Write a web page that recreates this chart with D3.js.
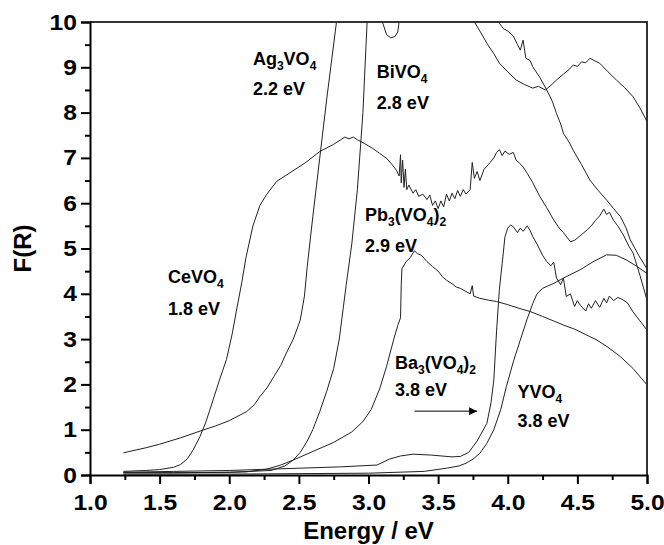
<!DOCTYPE html>
<html><head><meta charset="utf-8">
<script src="https://cdn.jsdelivr.net/npm/d3@7"></script>
<style>
html,body{margin:0;padding:0;background:#fff;}
svg{display:block;font-family:"Liberation Sans",Arial,sans-serif;}
</style></head>
<body>
<svg id="chart" width="664" height="545"></svg>
<script>
// ---- data (energy eV, F(R)) ----
const ceVO4 = [[1.24,0.08],[1.4,0.1],[1.5,0.12],[1.6,0.17],[1.65,0.23],[1.70,0.36],[1.74,0.55],[1.79,0.85],[1.83,1.15],[1.86,1.43],[1.93,2.1],[1.98,2.55],[2.02,3.1],[2.05,3.6],[2.09,4.25],[2.12,4.8],[2.17,5.5],[2.22,5.95],[2.27,6.2],[2.34,6.48],[2.45,6.7],[2.55,6.9],[2.65,7.14],[2.75,7.3],[2.80,7.40],[2.83,7.46],[2.86,7.42],[2.89,7.46],[2.92,7.40],[2.97,7.32],[3.03,7.21],[3.08,7.1],[3.13,6.99],[3.17,6.85],[3.20,6.73],[3.22,6.6],[3.23,7.07],[3.235,6.45],[3.245,6.95],[3.255,6.35],[3.265,6.75],[3.275,6.3],[3.29,6.4],[3.32,6.22],[3.34,6.3],[3.36,6.15],[3.39,6.2],[3.42,6.08],[3.44,6.18],[3.46,5.95],[3.48,6.05],[3.50,5.88],[3.52,6.05],[3.54,5.92],[3.56,6.2],[3.58,6.05],[3.60,6.22],[3.62,6.1],[3.64,6.28],[3.66,6.15],[3.68,6.3],[3.70,6.2],[3.73,6.3],[3.745,6.9],[3.76,6.55],[3.78,6.7],[3.80,6.5],[3.83,6.75],[3.86,6.85],[3.9,7.0],[3.92,7.12],[3.94,7.18],[3.96,7.05],[3.98,7.15],[4.01,7.08],[4.04,7.12],[4.06,6.95],[4.08,6.9],[4.11,6.8],[4.14,6.66],[4.18,6.45],[4.23,6.15],[4.28,5.9],[4.33,5.63],[4.37,5.45],[4.40,5.35],[4.45,5.15],[4.48,5.18],[4.52,5.28],[4.57,5.41],[4.60,5.5],[4.63,5.62],[4.66,5.72],[4.69,5.87],[4.71,5.75],[4.73,5.8],[4.76,5.62],[4.79,5.5],[4.83,5.3],[4.87,5.05],[4.90,4.9],[4.95,4.4],[5.0,3.86]];
const ag3VO4 = [[1.24,0.49],[1.4,0.6],[1.5,0.68],[1.65,0.82],[1.81,0.99],[1.9,1.08],[2.0,1.2],[2.125,1.40],[2.18,1.55],[2.22,1.73],[2.27,1.92],[2.32,2.17],[2.37,2.42],[2.41,2.69],[2.46,3.0],[2.51,3.42],[2.54,3.95],[2.56,4.6],[2.6,5.7],[2.65,7.0],[2.7,8.3],[2.77,10.0],[2.8,11],[3.05,11],[3.10,10.0],[3.13,9.72],[3.16,9.65],[3.19,9.68],[3.21,9.78],[3.22,10.0],[3.25,11],[3.7,11],[3.76,10.0],[3.80,9.8],[3.85,9.53],[3.90,9.3],[3.94,9.09],[4.0,8.9],[4.06,8.72],[4.12,8.62],[4.18,8.54],[4.22,8.58],[4.27,8.5],[4.31,8.6],[4.35,8.72],[4.40,8.85],[4.44,8.95],[4.47,9.05],[4.50,9.02],[4.53,9.12],[4.56,9.1],[4.59,9.2],[4.62,9.15],[4.66,9.09],[4.72,8.9],[4.78,8.72],[4.84,8.55],[4.90,8.35],[4.95,8.1],[5.0,7.8]];
const biVO4 = [[1.24,0.05],[1.6,0.05],[2.0,0.06],[2.3,0.1],[2.4,0.2],[2.46,0.33],[2.51,0.5],[2.56,0.75],[2.60,1.0],[2.65,1.4],[2.70,1.85],[2.75,2.35],[2.79,3.0],[2.84,4.2],[2.88,5.1],[2.92,6.3],[2.96,8.0],[2.99,10.0],[3.02,11],[3.9,11],[3.94,9.97],[3.97,9.85],[4.0,9.8],[4.04,9.69],[4.07,9.5],[4.09,9.38],[4.11,9.6],[4.13,9.2],[4.16,9.15],[4.18,9.01],[4.23,8.78],[4.28,8.5],[4.32,8.25],[4.35,7.98],[4.38,7.75],[4.40,7.54],[4.44,7.35],[4.47,7.17],[4.53,6.85],[4.59,6.51],[4.65,6.28],[4.71,6.07],[4.76,5.88],[4.81,5.70],[4.85,5.45],[4.88,5.19],[4.94,4.85],[5.0,4.55]];
const pb3VO42 = [[1.24,0.05],[1.6,0.05],[2.0,0.06],[2.125,0.07],[2.27,0.13],[2.37,0.22],[2.46,0.33],[2.6,0.52],[2.75,0.72],[2.88,0.95],[2.96,1.18],[3.02,1.45],[3.08,1.9],[3.13,2.4],[3.18,2.98],[3.21,3.3],[3.23,3.47],[3.235,4.2],[3.24,4.55],[3.27,4.71],[3.30,4.8],[3.33,4.95],[3.35,4.89],[3.38,4.85],[3.42,4.71],[3.46,4.6],[3.50,4.5],[3.53,4.38],[3.56,4.3],[3.60,4.22],[3.63,4.15],[3.66,4.12],[3.70,4.05],[3.73,4.0],[3.745,4.18],[3.755,3.95],[3.80,3.9],[3.86,3.86],[3.92,3.83],[4.0,3.76],[4.08,3.68],[4.16,3.61],[4.25,3.5],[4.33,3.4],[4.40,3.31],[4.48,3.22],[4.56,3.1],[4.64,2.98],[4.72,2.82],[4.81,2.61],[4.9,2.35],[5.0,1.99]];
const ba3VO42 = [[1.24,0.06],[1.6,0.08],[2.0,0.1],[2.5,0.15],[2.8,0.18],[3.06,0.22],[3.15,0.35],[3.23,0.42],[3.32,0.46],[3.45,0.44],[3.6,0.4],[3.66,0.41],[3.72,0.5],[3.78,0.75],[3.85,1.14],[3.88,1.6],[3.90,2.1],[3.92,3.2],[3.94,4.1],[3.96,4.67],[3.98,5.26],[4.0,5.45],[4.02,5.52],[4.04,5.48],[4.07,5.35],[4.09,5.45],[4.11,5.38],[4.14,5.5],[4.16,5.4],[4.18,5.26],[4.21,5.1],[4.25,4.85],[4.28,4.71],[4.31,4.62],[4.33,4.7],[4.35,4.35],[4.38,4.2],[4.40,4.35],[4.42,3.94],[4.45,4.0],[4.48,3.72],[4.50,3.85],[4.52,3.75],[4.56,3.62],[4.58,3.78],[4.60,3.68],[4.63,3.85],[4.66,3.7],[4.69,3.9],[4.71,3.8],[4.73,3.95],[4.76,3.85],[4.79,3.92],[4.82,3.88],[4.86,3.8],[4.9,3.6],[4.95,3.4],[5.0,3.2]];
const yVO4 = [[1.24,0.02],[2.0,0.02],[3.0,0.04],[3.4,0.08],[3.56,0.15],[3.65,0.2],[3.70,0.26],[3.75,0.35],[3.80,0.48],[3.85,0.7],[3.90,1.0],[3.95,1.45],[3.99,1.95],[4.04,2.5],[4.09,2.98],[4.14,3.45],[4.18,3.79],[4.21,4.0],[4.25,4.12],[4.33,4.23],[4.42,4.38],[4.52,4.53],[4.62,4.72],[4.71,4.86],[4.78,4.85],[4.85,4.75],[4.92,4.62],[5.0,4.45]];
const seriesList = [ceVO4, ag3VO4, biVO4, pb3VO42, ba3VO42, yVO4];

const xTicks = [1.0,1.5,2.0,2.5,3.0,3.5,4.0,4.5,5.0];
const yTicks = [0,1,2,3,4,5,6,7,8,9,10];

// ---- layout ----
const svg = d3.select("#chart");
const m = {left:90, right:17, top:22, bottom:70};
const W = 664, H = 545;
const x = d3.scaleLinear().domain([1,5]).range([m.left, W-m.right]);
const y = d3.scaleLinear().domain([0,10]).range([H-m.bottom, m.top]);

svg.append("defs").append("clipPath").attr("id","clip")
  .append("rect").attr("x",x(1)).attr("y",y(10)).attr("width",x(5)-x(1)).attr("height",y(0)-y(10));

// frame (top and right)
svg.append("path").attr("d",`M${x(1)},${y(10)}H${x(5)}V${y(0)}`)
  .attr("fill","none").attr("stroke","#333").attr("stroke-width",2);

const line = d3.line().x(d=>x(d[0])).y(d=>y(d[1]));
svg.append("g").attr("clip-path","url(#clip)").selectAll("path").data(seriesList).join("path")
  .attr("d",line).attr("fill","none").attr("stroke","#222").attr("stroke-width",1).attr("stroke-linejoin","round");

// axes
const fontTick = "bold 22px 'Liberation Sans', Arial, sans-serif";
svg.append("g").attr("class","xax").attr("transform",`translate(0,${y(0)})`)
  .call(d3.axisBottom(x).tickValues(xTicks).tickFormat(d3.format(".1f")).tickSize(9).tickPadding(10));
svg.append("g").attr("transform",`translate(0,${y(0)})`)
  .call(d3.axisBottom(x).tickValues(d3.range(1.25,5,0.5)).tickFormat("").tickSize(5))
  .select(".domain").remove();
svg.append("g").attr("class","yax").attr("transform",`translate(${x(1)},0)`)
  .call(d3.axisLeft(y).tickValues(yTicks).tickFormat(d3.format("d")).tickSize(9).tickPadding(4));
svg.append("g").attr("transform",`translate(${x(1)},0)`)
  .call(d3.axisLeft(y).tickValues(d3.range(0.5,10,1)).tickFormat("").tickSize(5))
  .select(".domain").remove();
svg.selectAll(".domain").attr("stroke","#000").attr("stroke-width",2);
svg.selectAll(".tick line").attr("stroke","#000").attr("stroke-width",2);
svg.selectAll(".tick text").style("font",fontTick).attr("fill","#000");
// slightly wide lettering as in the source figure
svg.selectAll(".xax .tick text").attr("transform","scale(1.12,1)");
svg.selectAll(".yax .tick text").each(function(){
  const tx = +d3.select(this).attr("x");
  d3.select(this).attr("transform",`translate(${tx},0) scale(1.12,1) translate(${-tx},0)`);
});

// axis titles
svg.append("text").attr("x",(x(1)+x(5))/2).attr("y",539).attr("text-anchor","middle")
  .style("font","bold 24px 'Liberation Sans', Arial, sans-serif").text("Energy / eV");
svg.append("text").attr("transform",`translate(31,${(y(0)+y(10))/2}) rotate(-90)`).attr("text-anchor","middle")
  .style("font","bold 24px 'Liberation Sans', Arial, sans-serif").text("F(R)");

// annotations: [text parts], position in data coords
const annotations = [
  {parts:[["Ag",0],["3",1],["VO",0],["4",1]], ex:2.17, fr:9.05},
  {parts:[["2.2 eV",0]], ex:2.17, fr:8.39},
  {parts:[["BiVO",0],["4",1]], ex:3.06, fr:8.76},
  {parts:[["2.8 eV",0]], ex:3.06, fr:8.09},
  {parts:[["Pb",0],["3",1],["(VO",0],["4",1],[")",0],["2",1]], ex:2.975, fr:5.61},
  {parts:[["2.9 eV",0]], ex:2.975, fr:4.92},
  {parts:[["CeVO",0],["4",1]], ex:1.56, fr:4.24},
  {parts:[["1.8 eV",0]], ex:1.56, fr:3.53},
  {parts:[["Ba",0],["3",1],["(VO",0],["4",1],[")",0],["2",1]], ex:3.19, fr:2.34},
  {parts:[["3.8 eV",0]], ex:3.19, fr:1.74},
  {parts:[["YVO",0],["4",1]], ex:4.07, fr:1.70},
  {parts:[["3.8 eV",0]], ex:4.07, fr:1.06}
];
annotations.forEach(a=>{
  const t = svg.append("text").attr("x",x(a.ex)).attr("y",y(a.fr))
    .style("font","bold 18px 'Liberation Sans', Arial, sans-serif").attr("fill","#000");
  let sub=false;
  a.parts.forEach(p=>{
    const ts = t.append("tspan").text(p[0]);
    if(p[1]){ ts.attr("dy", sub?0:5).style("font-size","12px"); sub=true; }
    else { if(sub){ ts.attr("dy",-5); } sub=false; }
  });
});

// arrow
const arrow = {from:[3.33,1.41], to:[3.78,1.41]};
svg.append("defs").append("marker").attr("id","ah").attr("viewBox","0 0 10 10").attr("refX",10).attr("refY",5)
  .attr("markerWidth",12).attr("markerHeight",8).attr("markerUnits","userSpaceOnUse").attr("orient","auto")
  .append("path").attr("d","M0,0L10,5L0,10Z").attr("fill","#000");
svg.append("line").attr("x1",x(arrow.from[0])).attr("y1",y(arrow.from[1])).attr("x2",x(arrow.to[0])).attr("y2",y(arrow.to[1]))
  .attr("stroke","#000").attr("stroke-width",1).attr("marker-end","url(#ah)");
</script>
</body></html>
